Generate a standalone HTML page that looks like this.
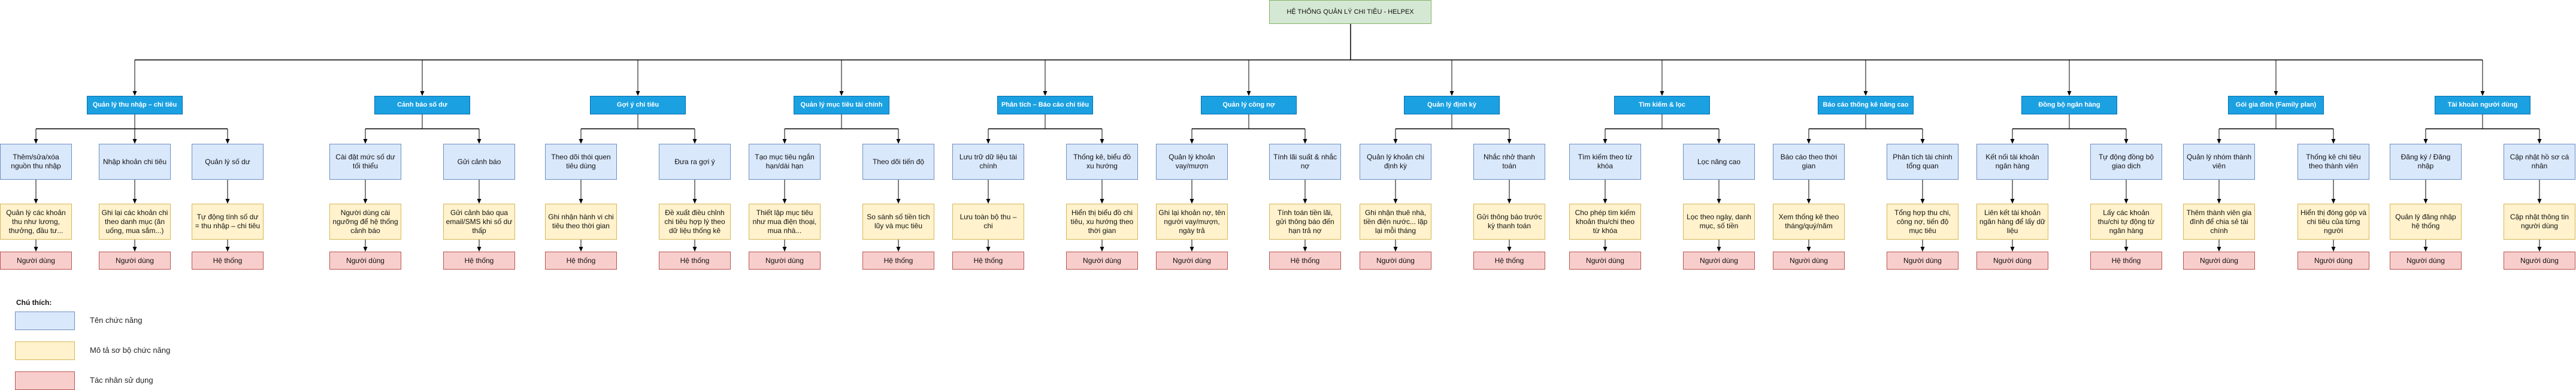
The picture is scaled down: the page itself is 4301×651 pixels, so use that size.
<!DOCTYPE html>
<html><head><meta charset="utf-8"><style>
html,body{margin:0;padding:0;background:#fff}
body{width:4301px;height:651px;position:relative;overflow:hidden;font-family:"Liberation Sans",Arial,sans-serif}
.b{position:absolute;box-sizing:border-box;display:flex;align-items:center;justify-content:center;text-align:center;font-size:12px;line-height:15px;color:#111;padding:0 3px;width:120px}
.f{top:240px;height:60px;background:#dae8fc;border:1px solid #6c8ebf}
.d{top:340px;height:60px;background:#fff2cc;border:1px solid #d6b656}
.a{top:420px;height:30px;background:#f8cecc;border:1px solid #b85450}
.g{top:160px;height:31px;width:160px;background:#1ba1e2;border:1px solid #006eaf;color:#fff;font-weight:bold;font-size:11px}
.t{left:2119px;top:0;width:271px;height:40px;background:#d5e8d4;border:1px solid #82b366;font-size:11px}
svg{position:absolute;left:0;top:0}
.lg{position:absolute;left:25px;width:100px;height:31px;box-sizing:border-box}
.lt{position:absolute;left:150px;font-size:13px;color:#222}
</style></head><body>
<svg width="4301" height="651" id="s"></svg>
<div class="b t">HỆ THỐNG QUẢN LÝ CHI TIÊU - HELPEX</div>
<div id="c"></div>
<div style="position:absolute;left:27px;top:498px;font-size:12px;font-weight:bold;color:#111">Chú thích:</div>
<div class="lg" style="top:520px;background:#dae8fc;border:1px solid #6c8ebf"></div>
<div class="lt" style="top:527px">Tên chức năng</div>
<div class="lg" style="top:570px;background:#fff2cc;border:1px solid #d6b656"></div>
<div class="lt" style="top:577px">Mô tả sơ bộ chức năng</div>
<div class="lg" style="top:620px;background:#f8cecc;border:1px solid #b85450"></div>
<div class="lt" style="top:627px">Tác nhân sử dụng</div>
<script>
var G=[
["Quản lý thu nhập – chi tiêu",145,[[0,"Thêm/sửa/xóa nguồn thu nhập","Quản lý các khoản thu như lương, thưởng, đầu tư...","Người dùng"],[165,"Nhập khoản chi tiêu","Ghi lại các khoản chi theo danh mục (ăn uống, mua sắm...)","Người dùng"],[320,"Quản lý số dư","Tự động tính số dư = thu nhập – chi tiêu","Hệ thống"]]],
["Cảnh báo số dư",625,[[550,"Cài đặt mức số dư tối thiểu","Người dùng cài ngưỡng để hệ thống cảnh báo","Người dùng"],[740,"Gửi cảnh báo","Gửi cảnh báo qua email/SMS khi số dư thấp","Hệ thống"]]],
["Gợi ý chi tiêu",985,[[910,"Theo dõi thói quen tiêu dùng","Ghi nhận hành vi chi tiêu theo thời gian","Hệ thống"],[1100,"Đưa ra gợi ý","Đề xuất điều chỉnh chi tiêu hợp lý theo dữ liệu thống kê","Hệ thống"]]],
["Quản lý mục tiêu tài chính",1325,[[1250,"Tạo mục tiêu ngắn hạn/dài hạn","Thiết lập mục tiêu như mua điện thoại, mua nhà...","Người dùng"],[1440,"Theo dõi tiến độ","So sánh số tiền tích lũy và mục tiêu","Hệ thống"]]],
["Phân tích – Báo cáo chi tiêu",1665,[[1590,"Lưu trữ dữ liệu tài chính","Lưu toàn bộ thu – chi","Hệ thống"],[1780,"Thống kê, biểu đồ xu hướng","Hiển thị biểu đồ chi tiêu, xu hướng theo thời gian","Người dùng"]]],
["Quản lý công nợ",2005,[[1930,"Quản lý khoản vay/mượn","Ghi lại khoản nợ, tên người vay/mượn, ngày trả","Người dùng"],[2119,"Tính lãi suất &amp; nhắc nợ","Tính toán tiền lãi, gửi thông báo đến hạn trả nợ","Hệ thống"]]],
["Quản lý định kỳ",2344,[[2270,"Quản lý khoản chi định kỳ","Ghi nhận thuê nhà, tiền điện nước... lặp lại mỗi tháng","Người dùng"],[2460,"Nhắc nhở thanh toán","Gửi thông báo trước kỳ thanh toán","Hệ thống"]]],
["Tìm kiếm &amp; lọc",2695,[[2620,"Tìm kiếm theo từ khóa","Cho phép tìm kiếm khoản thu/chi theo từ khóa","Người dùng"],[2810,"Lọc nâng cao","Lọc theo ngày, danh mục, số tiền","Người dùng"]]],
["Báo cáo thống kê nâng cao",3035,[[2960,"Báo cáo theo thời gian","Xem thống kê theo tháng/quý/năm","Người dùng"],[3150,"Phân tích tài chính tổng quan","Tổng hợp thu chi, công nợ, tiến độ mục tiêu","Người dùng"]]],
["Đồng bộ ngân hàng",3375,[[3300,"Kết nối tài khoản ngân hàng","Liên kết tài khoản ngân hàng để lấy dữ liệu","Người dùng"],[3490,"Tự động đồng bộ giao dịch","Lấy các khoản thu/chi tự động từ ngân hàng","Hệ thống"]]],
["Gói gia đình (Family plan)",3720,[[3645,"Quản lý nhóm thành viên","Thêm thành viên gia đình để chia sẻ tài chính","Người dùng"],[3836,"Thống kê chi tiêu theo thành viên","Hiển thị đóng góp và chi tiêu của từng người","Người dùng"]]],
["Tài khoản người dùng",4065,[[3990,"Đăng ký / Đăng nhập","Quản lý đăng nhập hệ thống","Người dùng"],[4180,"Cập nhật hồ sơ cá nhân","Cập nhật thông tin người dùng","Người dùng"]]]
];
var h="",s="";
function L(x1,y1,x2,y2,w){s+='<line x1="'+x1+'" y1="'+y1+'" x2="'+x2+'" y2="'+y2+'" stroke="#000" stroke-width="'+(w||1)+'"/>';}
function A(x,y1,y2){L(x,y1,x,y2-6);s+='<polygon points="'+(x-3.5)+','+(y2-8)+' '+(x+3.5)+','+(y2-8)+' '+x+','+y2+'" fill="#000"/>';}
L(2255,40,2255,100,1.5);L(225,100,4145,100,1.5);
G.forEach(function(g){
 var cx=g[1]+80;
 A(cx,100,160);
 h+='<div class="b g" style="left:'+g[1]+'px">'+g[0]+'</div>';
 L(cx,191,cx,215);
 var ch=g[2];L(ch[0][0]+60,215,ch[ch.length-1][0]+60,215,1.5);
 ch.forEach(function(c){var x=c[0]+60;
  A(x,215,240);A(x,300,340);A(x,400,420);
  h+='<div class="b f" style="left:'+c[0]+'px">'+c[1]+'</div>';
  h+='<div class="b d" style="left:'+c[0]+'px">'+c[2]+'</div>';
  h+='<div class="b a" style="left:'+c[0]+'px">'+c[3]+'</div>';
 });
});
document.getElementById("c").innerHTML=h;
document.getElementById("s").innerHTML=s;
</script>
</body></html>
